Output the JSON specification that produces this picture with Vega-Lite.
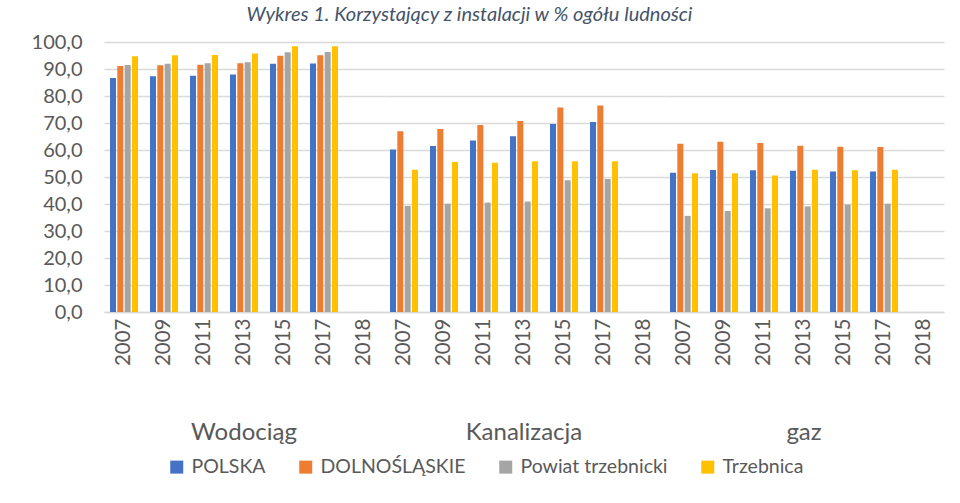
{
  "$schema": "https://vega.github.io/schema/vega-lite/v6.json",
  "padding": {"left": 31, "top": 5, "right": 5, "bottom": 5},
  "title": {"text": "Wykres 1. Korzystający z instalacji w % ogółu ludności", "fontSize": 20, "fontStyle": "italic", "fontWeight": "normal", "color": "#44546A", "font": "Lato", "anchor": "middle", "offset": 7, "dx": -18},
  "data": {"values": [
    {"grupa":"Wodociąg","rok":"2007","seria":"POLSKA","wartosc":86.7},
    {"grupa":"Wodociąg","rok":"2007","seria":"DOLNOŚLĄSKIE","wartosc":91.1},
    {"grupa":"Wodociąg","rok":"2007","seria":"Powiat trzebnicki","wartosc":91.5},
    {"grupa":"Wodociąg","rok":"2007","seria":"Trzebnica","wartosc":94.7},
    {"grupa":"Wodociąg","rok":"2009","seria":"POLSKA","wartosc":87.3},
    {"grupa":"Wodociąg","rok":"2009","seria":"DOLNOŚLĄSKIE","wartosc":91.4},
    {"grupa":"Wodociąg","rok":"2009","seria":"Powiat trzebnicki","wartosc":91.9},
    {"grupa":"Wodociąg","rok":"2009","seria":"Trzebnica","wartosc":95.1},
    {"grupa":"Wodociąg","rok":"2011","seria":"POLSKA","wartosc":87.5},
    {"grupa":"Wodociąg","rok":"2011","seria":"DOLNOŚLĄSKIE","wartosc":91.6},
    {"grupa":"Wodociąg","rok":"2011","seria":"Powiat trzebnicki","wartosc":92.1},
    {"grupa":"Wodociąg","rok":"2011","seria":"Trzebnica","wartosc":95.2},
    {"grupa":"Wodociąg","rok":"2013","seria":"POLSKA","wartosc":88.0},
    {"grupa":"Wodociąg","rok":"2013","seria":"DOLNOŚLĄSKIE","wartosc":92.1},
    {"grupa":"Wodociąg","rok":"2013","seria":"Powiat trzebnicki","wartosc":92.5},
    {"grupa":"Wodociąg","rok":"2013","seria":"Trzebnica","wartosc":95.7},
    {"grupa":"Wodociąg","rok":"2015","seria":"POLSKA","wartosc":91.9},
    {"grupa":"Wodociąg","rok":"2015","seria":"DOLNOŚLĄSKIE","wartosc":94.9},
    {"grupa":"Wodociąg","rok":"2015","seria":"Powiat trzebnicki","wartosc":96.2},
    {"grupa":"Wodociąg","rok":"2015","seria":"Trzebnica","wartosc":98.4},
    {"grupa":"Wodociąg","rok":"2017","seria":"POLSKA","wartosc":92.0},
    {"grupa":"Wodociąg","rok":"2017","seria":"DOLNOŚLĄSKIE","wartosc":95.1},
    {"grupa":"Wodociąg","rok":"2017","seria":"Powiat trzebnicki","wartosc":96.3},
    {"grupa":"Wodociąg","rok":"2017","seria":"Trzebnica","wartosc":98.4},
    {"grupa":"Kanalizacja","rok":"2007","seria":"POLSKA","wartosc":60.2},
    {"grupa":"Kanalizacja","rok":"2007","seria":"DOLNOŚLĄSKIE","wartosc":66.9},
    {"grupa":"Kanalizacja","rok":"2007","seria":"Powiat trzebnicki","wartosc":39.3},
    {"grupa":"Kanalizacja","rok":"2007","seria":"Trzebnica","wartosc":52.7},
    {"grupa":"Kanalizacja","rok":"2009","seria":"POLSKA","wartosc":61.5},
    {"grupa":"Kanalizacja","rok":"2009","seria":"DOLNOŚLĄSKIE","wartosc":67.8},
    {"grupa":"Kanalizacja","rok":"2009","seria":"Powiat trzebnicki","wartosc":40.1},
    {"grupa":"Kanalizacja","rok":"2009","seria":"Trzebnica","wartosc":55.6},
    {"grupa":"Kanalizacja","rok":"2011","seria":"POLSKA","wartosc":63.5},
    {"grupa":"Kanalizacja","rok":"2011","seria":"DOLNOŚLĄSKIE","wartosc":69.3},
    {"grupa":"Kanalizacja","rok":"2011","seria":"Powiat trzebnicki","wartosc":40.5},
    {"grupa":"Kanalizacja","rok":"2011","seria":"Trzebnica","wartosc":55.3},
    {"grupa":"Kanalizacja","rok":"2013","seria":"POLSKA","wartosc":65.1},
    {"grupa":"Kanalizacja","rok":"2013","seria":"DOLNOŚLĄSKIE","wartosc":70.7},
    {"grupa":"Kanalizacja","rok":"2013","seria":"Powiat trzebnicki","wartosc":40.9},
    {"grupa":"Kanalizacja","rok":"2013","seria":"Trzebnica","wartosc":55.8},
    {"grupa":"Kanalizacja","rok":"2015","seria":"POLSKA","wartosc":69.6},
    {"grupa":"Kanalizacja","rok":"2015","seria":"DOLNOŚLĄSKIE","wartosc":75.7},
    {"grupa":"Kanalizacja","rok":"2015","seria":"Powiat trzebnicki","wartosc":48.8},
    {"grupa":"Kanalizacja","rok":"2015","seria":"Trzebnica","wartosc":55.8},
    {"grupa":"Kanalizacja","rok":"2017","seria":"POLSKA","wartosc":70.4},
    {"grupa":"Kanalizacja","rok":"2017","seria":"DOLNOŚLĄSKIE","wartosc":76.5},
    {"grupa":"Kanalizacja","rok":"2017","seria":"Powiat trzebnicki","wartosc":49.3},
    {"grupa":"Kanalizacja","rok":"2017","seria":"Trzebnica","wartosc":55.8},
    {"grupa":"gaz","rok":"2007","seria":"POLSKA","wartosc":51.6},
    {"grupa":"gaz","rok":"2007","seria":"DOLNOŚLĄSKIE","wartosc":62.3},
    {"grupa":"gaz","rok":"2007","seria":"Powiat trzebnicki","wartosc":35.6},
    {"grupa":"gaz","rok":"2007","seria":"Trzebnica","wartosc":51.4},
    {"grupa":"gaz","rok":"2009","seria":"POLSKA","wartosc":52.6},
    {"grupa":"gaz","rok":"2009","seria":"DOLNOŚLĄSKIE","wartosc":63.1},
    {"grupa":"gaz","rok":"2009","seria":"Powiat trzebnicki","wartosc":37.4},
    {"grupa":"gaz","rok":"2009","seria":"Trzebnica","wartosc":51.4},
    {"grupa":"gaz","rok":"2011","seria":"POLSKA","wartosc":52.5},
    {"grupa":"gaz","rok":"2011","seria":"DOLNOŚLĄSKIE","wartosc":62.6},
    {"grupa":"gaz","rok":"2011","seria":"Powiat trzebnicki","wartosc":38.4},
    {"grupa":"gaz","rok":"2011","seria":"Trzebnica","wartosc":50.6},
    {"grupa":"gaz","rok":"2013","seria":"POLSKA","wartosc":52.3},
    {"grupa":"gaz","rok":"2013","seria":"DOLNOŚLĄSKIE","wartosc":61.6},
    {"grupa":"gaz","rok":"2013","seria":"Powiat trzebnicki","wartosc":39.1},
    {"grupa":"gaz","rok":"2013","seria":"Trzebnica","wartosc":52.7},
    {"grupa":"gaz","rok":"2015","seria":"POLSKA","wartosc":52.0},
    {"grupa":"gaz","rok":"2015","seria":"DOLNOŚLĄSKIE","wartosc":61.2},
    {"grupa":"gaz","rok":"2015","seria":"Powiat trzebnicki","wartosc":39.8},
    {"grupa":"gaz","rok":"2015","seria":"Trzebnica","wartosc":52.5},
    {"grupa":"gaz","rok":"2017","seria":"POLSKA","wartosc":52.0},
    {"grupa":"gaz","rok":"2017","seria":"DOLNOŚLĄSKIE","wartosc":61.1},
    {"grupa":"gaz","rok":"2017","seria":"Powiat trzebnicki","wartosc":40.1},
    {"grupa":"gaz","rok":"2017","seria":"Trzebnica","wartosc":52.7}
  ]},
  "facet": {
    "column": {
      "field": "grupa", "type": "nominal",
      "sort": ["Wodociąg", "Kanalizacja", "gaz"],
      "header": {"title": null, "labelOrient": "bottom", "labelFontSize": 24, "labelColor": "#595959", "labelFont": "Lato", "labelPadding": 55}
    }
  },
  "spacing": 0,
  "spec": {
    "width": 280,
    "height": 270,
    "mark": {"type": "bar"},
    "encoding": {
      "x": {
        "field": "rok", "type": "nominal",
        "scale": {"domain": ["2007", "2009", "2011", "2013", "2015", "2017", "2018"], "paddingInner": 0.3, "paddingOuter": 0.15},
        "axis": {"title": null, "labelAngle": -90, "labelFontSize": 20.5, "labelColor": "#595959", "labelFont": "Lato", "labelPadding": 6, "ticks": false, "tickSize": 0, "domainColor": "#D9D9D9", "domainWidth": 1.5, "grid": false}
      },
      "xOffset": {
        "field": "seria", "type": "nominal",
        "scale": {"domain": ["POLSKA", "DOLNOŚLĄSKIE", "Powiat trzebnicki", "Trzebnica"], "paddingInner": 0.18}
      },
      "y": {
        "field": "wartosc", "type": "quantitative",
        "scale": {"domain": [0, 100], "nice": false},
        "axis": {"title": null, "values": [0,10,20,30,40,50,60,70,80,90,100], "labelExpr": "replace(format(datum.value, '.1f'), '.', ',')", "labelFontSize": 20, "labelColor": "#595959", "labelFont": "Lato", "labelPadding": 22, "ticks": false, "tickSize": 0, "domain": false, "gridColor": "#D9D9D9", "gridWidth": 1.5}
      },
      "color": {
        "field": "seria", "type": "nominal",
        "scale": {"domain": ["POLSKA", "DOLNOŚLĄSKIE", "Powiat trzebnicki", "Trzebnica"], "range": ["#4472C4", "#ED7D31", "#A5A5A5", "#FFC000"]},
        "legend": {"title": null, "orient": "none", "direction": "horizontal", "legendX": 63, "legendY": 415, "symbolType": "square", "symbolSize": 169, "symbolStrokeWidth": 0, "labelFontSize": 19.5, "labelColor": "#595959", "labelFont": "Lato", "columnPadding": 30, "labelOffset": 5}
      }
    }
  },
  "config": {"view": {"stroke": null}, "font": "Lato"}
}
